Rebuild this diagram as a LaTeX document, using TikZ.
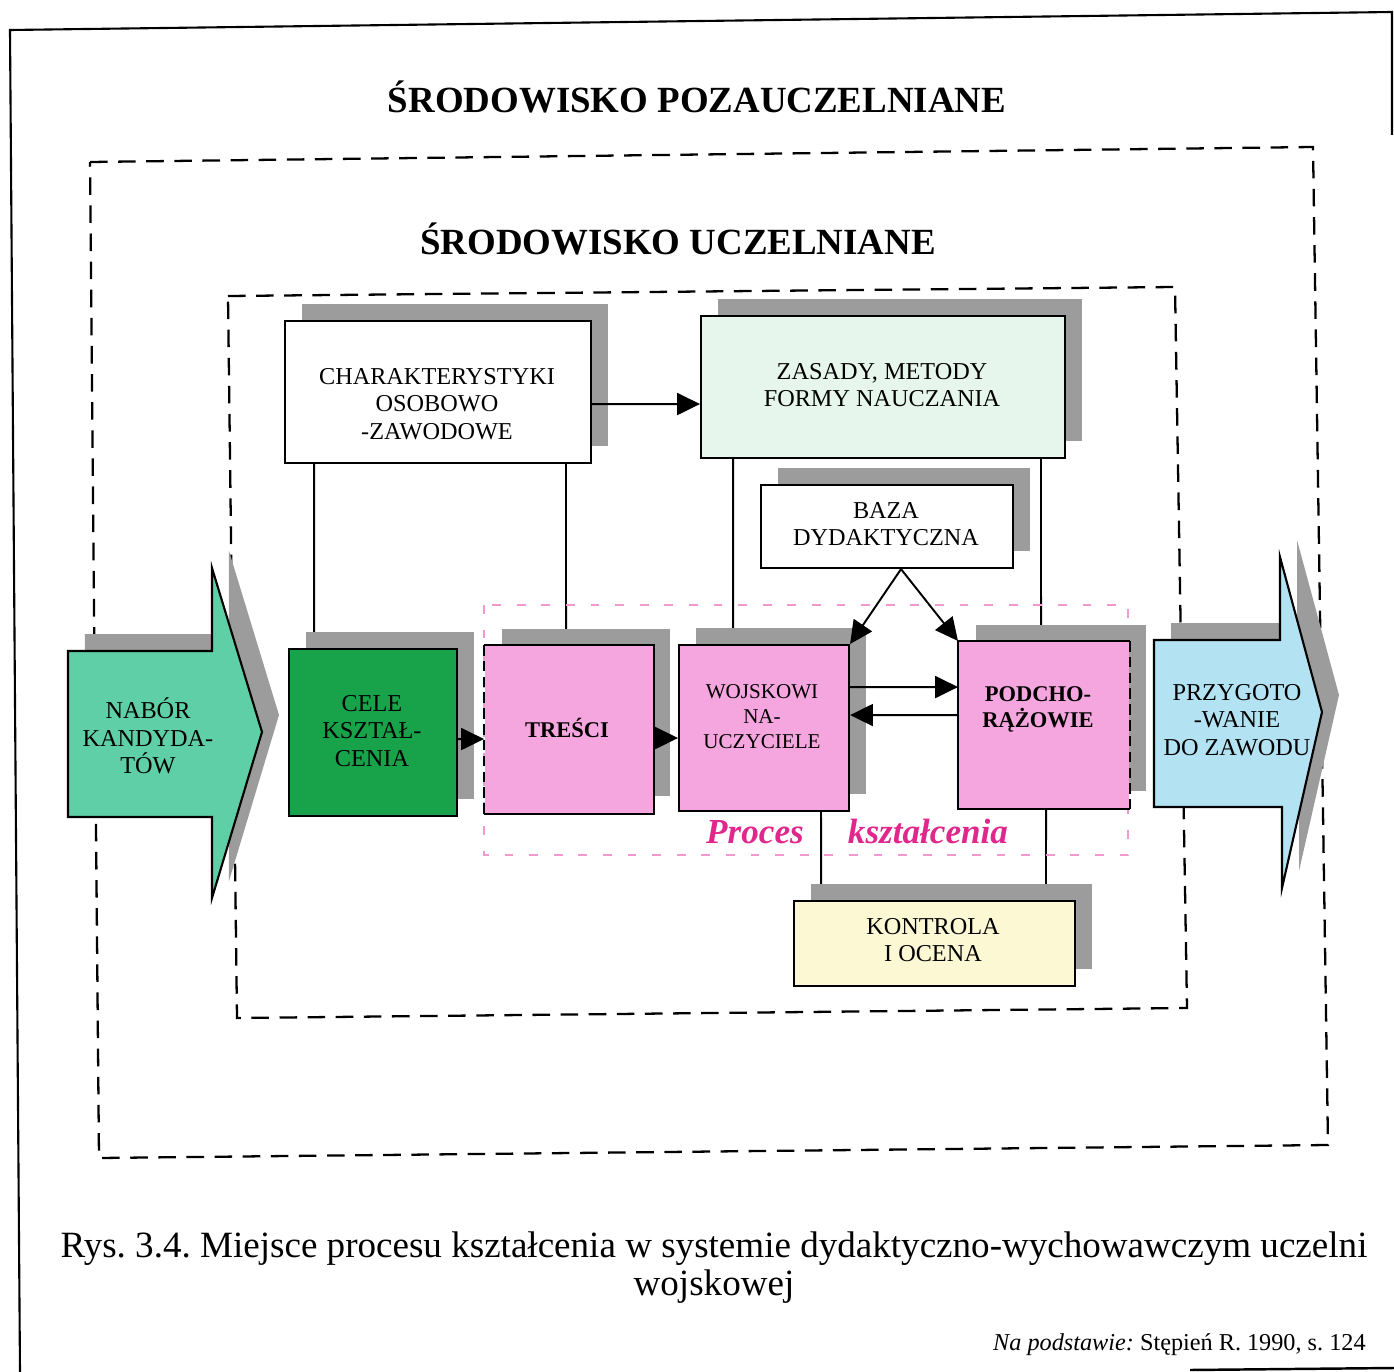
\documentclass[tikz,border=0pt]{standalone}
\usepackage{fontspec}
\setmainfont{Liberation Serif}
\usetikzlibrary{arrows.meta,shadows,backgrounds}
\frenchspacing
\definecolor{shgray}{HTML}{9C9C9C}
\definecolor{naborfill}{HTML}{5FCFA8}
\definecolor{celefill}{HTML}{18A34A}
\definecolor{pinkfill}{HTML}{F5A6DE}
\definecolor{przfill}{HTML}{B3E3F3}
\definecolor{zasfill}{HTML}{E6F6EC}
\definecolor{kontfill}{HTML}{FBF8D3}
\definecolor{pinkline}{HTML}{F29AD0}
\definecolor{procmag}{HTML}{E0288C}
\begin{document}
\begin{tikzpicture}[x=0.02cm,y=-0.02cm,
  sh/.style={drop shadow={shadow xshift=0.34cm, shadow yshift=0.34cm, fill=shgray, opacity=1}},
  bx/.style={draw=black, line width=1.2pt, inner sep=0pt, anchor=north west, sh},
  txt/.style={align=center, inner sep=0pt, font=\fontsize{13.8}{15.6}\selectfont},
  conn/.style={line width=1.1pt},
  arr/.style={line width=1.1pt, -{Triangle[length=13pt,width=12.5pt]}},
  odash/.style={line width=1.3pt, dash pattern=on 10pt off 6pt},
  pdash/.style={line width=0.7pt, draw=pinkline, dash pattern=on 5pt off 9pt},
  pk/.style={anchor=base, inner sep=0pt, text=procmag, font=\bfseries\itshape\fontsize{20}{24}\selectfont}]
\useasboundingbox (0,0) rectangle (1394,1372);

% page frame
\draw[line width=1.2pt] (20,1372) -- (10,30) -- (1392,12) -- (1392,135);
\draw[line width=1.4pt] (1190,1370) -- (1394,1368);

% titles
\node[anchor=base, inner sep=0pt, font=\bfseries\fontsize{21}{25}\selectfont] (t1) at (697,113) {ŚRODOWISKO POZAUCZELNIANE};
\node[anchor=base, inner sep=0pt, font=\bfseries\fontsize{21}{25}\selectfont] (t2) at (678,255) {ŚRODOWISKO UCZELNIANE};

% environment frames
\draw[odash] (90,162) -- (1313,147) -- (1328,1145) -- (99,1158) -- cycle;
\draw[odash] (228,296) -- (1175,287) -- (1187,1008) -- (237,1018) -- cycle;
\draw[pdash] (484,605) rectangle (1128,855);

% arrow-shaped blocks
\path[draw=black, line width=1.2pt, fill=naborfill, sh] (68,651) -- (212,651) -- (212,568) -- (262,732) -- (212,898) -- (212,817) -- (68,817) -- cycle;
\path[draw=black, line width=1.2pt, fill=przfill, sh] (1154,640) -- (1280,640) -- (1280,557) -- (1322,712) -- (1282,888) -- (1282,807) -- (1154,807) -- cycle;

% boxes
\node[bx, fill=white, minimum width=6.12cm, minimum height=2.84cm] (char) at (284,320) {};
\node[bx, fill=zasfill, minimum width=7.28cm, minimum height=2.84cm] (zas) at (700,315) {};
\node[bx, fill=white, minimum width=5.04cm, minimum height=1.66cm] (baza) at (760,484) {};
\node[bx, fill=celefill, minimum width=3.36cm, minimum height=3.34cm] (cele) at (288,648) {};
\node[bx, draw=none, fill=pinkfill, minimum width=3.36cm, minimum height=3.34cm] (tre) at (484,645) {};
\node[bx, fill=pinkfill, minimum width=3.4cm, minimum height=3.32cm] (woj) at (678,644) {};
\node[bx, draw=none, fill=pinkfill, minimum width=3.4cm, minimum height=3.32cm] (pod) at (958,641) {};
\node[bx, fill=kontfill, minimum width=5.62cm, minimum height=1.7cm] (kon) at (793,900) {};

\draw[line width=1.2pt] (tre.north west) -- (tre.north east) -- (tre.south east) -- (tre.south west);
\draw[line width=1.2pt, dash pattern=on 6pt off 3pt] (tre.north west) -- (tre.south west);
\draw[line width=1.2pt] (pod.north east) -- (pod.north west) -- (pod.south west) -- (pod.south east);
\draw[line width=1.2pt, dash pattern=on 6pt off 3pt] (pod.north east) -- (pod.south east);

% texts
\node[txt] (nabort) at (148,736) {NABÓR\\KANDYDA-\\TÓW};
\node[txt] (przygt) at (1237,720) {PRZYGOTO\\-WANIE\\DO ZAWODU};
\node[txt] (chart) at (437,404) {CHARAKTERYSTYKI\\OSOBOWO\\-ZAWODOWE};
\node[txt] (zast) at (882,385) {ZASADY, METODY\\FORMY NAUCZANIA};
\node[txt] (bazat) at (886,524) {BAZA\\DYDAKTYCZNA};
\node[txt] (celet) at (372,731) {CELE\\KSZTAŁ-\\CENIA};
\node[txt, font=\bfseries\fontsize{12.8}{15.6}\selectfont] (tret) at (567,728) {TREŚCI};
\node[txt, font=\fontsize{12}{14.2}\selectfont] (wojt) at (762,717) {WOJSKOWI\\NA-\\UCZYCIELE};
\node[txt, font=\bfseries\fontsize{12.8}{14.8}\selectfont] (podt) at (1038,709) {PODCHO-\\RĄŻOWIE};
\node[txt] (kont) at (933,940) {KONTROLA\\I OCENA};

\node[pk] (proc) at (755,843) {Proces};
\node[pk] (kszt) at (928,843) {kształcenia};

% plain connecting lines (behind shadows)
\begin{scope}[on background layer]
\draw[conn] ([xshift=-2.48cm]char.south) -- ([xshift=-1.18cm]cele.north);
\draw[conn] ([xshift=2.56cm]char.south) -- ([xshift=-0.06cm]tre.north);
\draw[conn] ([xshift=-3.0cm]zas.south) -- ([xshift=-0.62cm]woj.north);
\draw[conn] ([xshift=3.16cm]zas.south) -- ([xshift=-0.06cm]pod.north);
\draw[conn] ([xshift=1.14cm]woj.south) -- ([xshift=-2.27cm]kon.north);
\draw[conn] ([xshift=0.04cm]pod.south) -- ([xshift=2.23cm]kon.north);
\end{scope}

% arrows
\draw[arr] ([yshift=-0.24cm]char.east) -- ([yshift=-0.34cm]zas.west);
\draw[arr] ([yshift=-0.13cm]cele.east) -- ([yshift=-0.19cm]tre.west);
\draw[arr] ([yshift=-0.17cm]tre.east) -- ([yshift=-0.2cm]woj.west);
\draw[arr] ([yshift=0.82cm]woj.east) -- ([yshift=0.76cm]pod.west);
\draw[arr] ([yshift=0.2cm]pod.west) -- ([yshift=0.26cm]woj.east);
\draw[arr] ([xshift=0.28cm]baza.south) -- (woj.north east);
\draw[arr] ([xshift=0.28cm]baza.south) -- (pod.north west);

% caption
\node[anchor=base, inner sep=0pt, font=\fontsize{21.1}{24}\selectfont] (cap1) at (714,1257) {Rys. 3.4. Miejsce procesu kształcenia w systemie dydaktyczno-wychowawczym uczelni};
\node[anchor=base, inner sep=0pt, font=\fontsize{21.1}{24}\selectfont] (cap2) at (714,1295) {wojskowej};
\node[anchor=base east, inner sep=0pt, font=\fontsize{13.8}{16}\selectfont] (src) at (1366,1350) {\textit{Na podstawie:} Stępień R. 1990, s. 124};
\end{tikzpicture}
\end{document}
